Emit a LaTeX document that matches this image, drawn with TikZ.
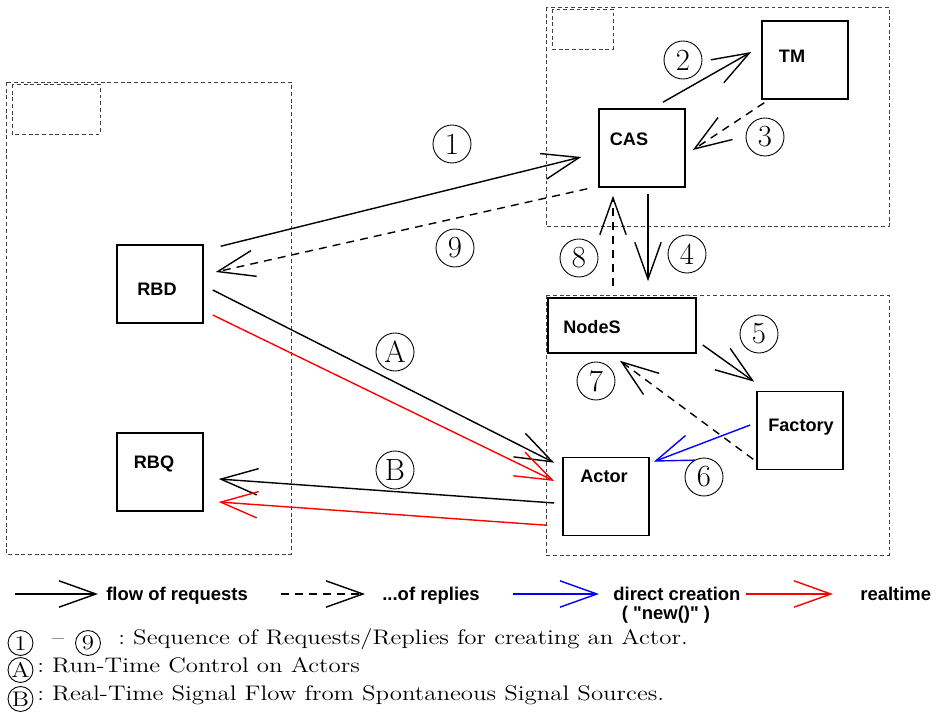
\documentclass[tikz,border=0pt]{standalone}
\usepackage{fontspec}
\setsansfont{Liberation Sans}
\newfontfamily\lgfont{Liberation Sans}
\newfontfamily\notefont[FakeStretch=1.18]{Latin Modern Roman}
\usetikzlibrary{arrows.meta}

\begin{document}
\begin{tikzpicture}[x=0.02cm,y=-0.02cm]
    \tikzstyle{frame}=[draw=black!75,line width=0.5pt,dash pattern=on 2.2pt off 1.6pt]
    \tikzstyle{box}=[rectangle,draw=black,line width=0.9pt,minimum width=1.72cm,minimum height=1.56cm,inner sep=0pt]
    \tikzstyle{lbl}=[anchor=base,inner sep=0pt,font=\sffamily\bfseries\fontsize{10.3}{12}\selectfont]
    \tikzstyle{num}=[circle,draw=black,line width=0.5pt,minimum size=0.76cm,inner sep=0pt,font=\fontsize{17.5}{20}\selectfont]
    \tikzstyle{knum}=[circle,draw=black,line width=0.5pt,minimum size=0.5cm,inner sep=0pt,font=\notefont\fontsize{12}{14}\selectfont]
    \tikzstyle{req}=[-{Straight Barb[length=21pt,width=15pt]},line width=0.8pt]
    \tikzstyle{rep}=[req,dash pattern=on 4.5pt off 3.5pt]
    \tikzstyle{new}=[req,blue]
    \tikzstyle{rt}=[req,red]
    \tikzstyle{legend}=[anchor=base west,inner sep=0pt,font=\lgfont\bfseries\fontsize{10.5}{12}\selectfont]
    \tikzstyle{note}=[anchor=base west,inner sep=0pt,font=\notefont\fontsize{12}{14}\selectfont]

    \useasboundingbox (0,0) rectangle (937,719);

    % Draw the dashed frames
    \draw[frame] (6,82) rectangle (291,554);
    \draw[frame] (12,84) rectangle (100,134);
    \draw[frame] (546,7) rectangle (889,226);
    \draw[frame] (552,9) rectangle (613,49);
    \draw[frame] (546,295) rectangle (889,555);

    % Draw the boxes
    \node[box] (RBD) at (160,284) {};
    \node[box] (RBQ) at (160,472) {};
    \node[box] (TM) at (805,60) {};
    \node[box] (CAS) at (642,148) {};
    \node[box,minimum width=2.96cm,minimum height=1.1cm] (NodeS) at (622,325.5) {};
    \node[box] (Factory) at (800,430.5) {};
    \node[box] (Actor) at (606,496.5) {};

    \node[lbl] (RBD-t) at (157,296) {RBD};
    \node[lbl] (RBQ-t) at (154,469) {RBQ};
    \node[lbl] (TM-t) at (792,63) {TM};
    \node[lbl] (CAS-t) at (629,146) {CAS};
    \node[lbl] (NodeS-t) at (592,334) {NodeS};
    \node[lbl] (Factory-t) at (801,432) {Factory};
    \node[lbl] (Actor-t) at (604,483) {Actor};

    % Requests and replies for creating an Actor
    \draw[req] ([shift={(17,2)}]RBD.north east) -- ([shift={(-17,9)}]CAS.west);
    \draw[req] ([shift={(21,-6)}]CAS.north) -- ([shift={(-10,-8)}]TM.west);
    \draw[rep] ([shift={(3,3)}]TM.south west) -- ([shift={(7,2)}]CAS.east);
    \draw[req] ([shift={(6,6)}]CAS.south) -- ([shift={(26,-16)}]NodeS.north);
    \draw[req] ([shift={(6,19.5)}]NodeS.east) -- ([shift={(-2,-9)}]Factory.north west);
    \draw[new] ([shift={(-6,-5.5)}]Factory.west) -- ([shift={(4,5)}]Actor.north east);
    \draw[rep] ([shift={(-3,-11)}]Factory.south west) -- ([shift={(-2,7)}]NodeS.south);
    \draw[rep] ([shift={(-9,-11)}]NodeS.north) -- ([shift={(-29,8)}]CAS.south);
    \draw[rep] ([shift={(-11,1)}]CAS.south west) -- ([shift={(12,-12)}]RBD.east);

    % Run-time control and signal flow
    \draw[req] ([shift={(9,6)}]RBD.east) -- ([shift={(-8,6)}]Actor.north west);
    \draw[rt] ([shift={(9,31)}]RBD.east) -- ([shift={(-8,-15.5)}]Actor.west);
    \draw[req] ([shift={(-8,6.5)}]Actor.west) -- ([shift={(15,7)}]RBQ.east);
    \draw[rt] ([shift={(-15,-11)}]Actor.south west) -- ([shift={(15,30)}]RBQ.east);

    % Sequence numbers
    \node[num] (n1) at (452,144) {1};
    \node[num] (n2) at (683,60) {2};
    \node[num] (n3) at (765,137) {3};
    \node[num] (n4) at (687,254) {4};
    \node[num] (n5) at (759,334) {5};
    \node[num] (n6) at (704,477) {6};
    \node[num] (n7) at (596,381) {7};
    \node[num] (n8) at (579,258) {8};
    \node[num] (n9) at (455,248) {9};
    \node[num] (nA) at (395,352) {A};
    \node[num] (nB) at (395,470) {B};

    % Legend
    \coordinate (lg1a) at (15,594);
    \coordinate (lg1b) at (98,594);
    \draw[req] (lg1a) -- (lg1b);
    \node[legend] (lg1) at (106,601) {flow of requests};
    \coordinate (lg2a) at (281,594);
    \coordinate (lg2b) at (365,594);
    \draw[rep] (lg2a) -- (lg2b);
    \node[legend] (lg2) at (382,601) {...of replies};
    \coordinate (lg3a) at (513,594);
    \coordinate (lg3b) at (599,594);
    \draw[new] (lg3a) -- (lg3b);
    \node[legend] (lg3) at (613,601) {direct creation};
    \node[legend,anchor=base] (lg3n) at (666,620) {( "new()" )};
    \coordinate (lg4a) at (746,594);
    \coordinate (lg4b) at (833,594);
    \draw[rt] (lg4a) -- (lg4b);
    \node[legend] (lg4) at (860,601) {realtime};

    % Notes
    \node[knum] (k1) at (20.5,643) {1};
    \node[note,anchor=base] (k-dash) at (58,644) {–};
    \node[knum] (k9) at (88,643) {9};
    \node[note] (note1) at (118,644) {:\ Sequence of Requests/Replies for creating an Actor.};
    \node[knum] (kA) at (20.5,670) {A};
    \node[note] (note2) at (37,672) {:\ Run-Time Control on Actors};
    \node[knum] (kB) at (20.5,699) {B};
    \node[note] (note3) at (37,700) {:\ Real-Time Signal Flow from Spontaneous Signal Sources.};
\end{tikzpicture}
\end{document}
